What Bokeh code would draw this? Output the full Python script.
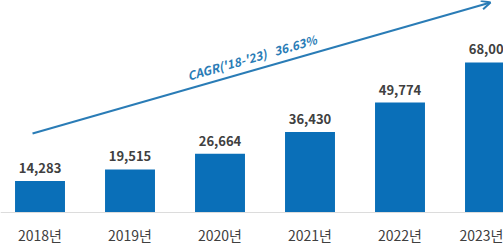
from bokeh.plotting import figure
from bokeh.models import Range1d, FixedTicker, Arrow, OpenHead, ColumnDataSource
from bokeh.embed import file_html
from bokeh.resources import INLINE
from bokeh.core.properties import value
import math

# ---- data ----
years = ["2018년", "2019년", "2020년", "2021년", "2022년", "2023년"]
values = [14283, 19515, 26664, 36430, 49774, 68000]
value_labels = ["14,283", "19,515", "26,664", "36,430", "49,774", "68,000"]
cagr_text = "CAGR('18-'23)\u00a0\u00a0\u00a036.63%"

BAR_COLOR = "#0a6fb8"
ARROW_COLOR = "#2a7cb6"
TEXT_COLOR = "#404040"
FONT = "Noto Sans CJK KR"

xs = list(range(len(years)))
src = ColumnDataSource(dict(x=xs, top=values, label=value_labels))

p = figure(width=503, height=243, output_backend="svg", toolbar_location=None,
           x_range=Range1d(-0.439, 5.15), y_range=Range1d(-14043, 96036),
           min_border=0, min_border_left=0, min_border_right=0, min_border_top=0,
           min_border_bottom=0)
p.outline_line_color = None
p.background_fill_color = "white"
p.border_fill_color = "white"
p.xgrid.visible = False
p.ygrid.visible = False
p.yaxis.visible = False

p.vbar(x="x", top="top", width=0.555, bottom=0, source=src,
       fill_color=BAR_COLOR, line_color=None)

p.text(x="x", y="top", text="label", source=src, text_align="center",
       text_baseline="bottom", y_offset=-8, text_font=value(FONT),
       text_font_size="13px", text_font_style="bold", text_color=TEXT_COLOR)

xa = p.xaxis[0]
xa.fixed_location = 0
xa.ticker = FixedTicker(ticks=xs)
xa.major_label_overrides = {i: y for i, y in enumerate(years)}
xa.axis_line_color = "#dcdcdc"
xa.axis_line_width = 1
xa.major_tick_line_color = None
xa.minor_tick_line_color = None
xa.major_tick_out = 0
xa.major_tick_in = 0
xa.major_label_standoff = 12
xa.major_label_text_font = FONT
xa.major_label_text_font_size = "14px"
xa.major_label_text_color = TEXT_COLOR

# CAGR arrow and label (annotation)
p.add_layout(Arrow(x_start=-0.083, y_start=35787, x_end=5.006, y_end=95130,
                   line_color=ARROW_COLOR, line_width=2,
                   end=OpenHead(size=9, line_color=ARROW_COLOR, line_width=2)))
p.text(x=[1.639], y=[62061], text=[cagr_text], angle=math.radians(16),
       text_align="left", text_baseline="alphabetic",
       text_font=value(FONT), text_font_size="12px", text_font_style="bold italic",
       text_color=ARROW_COLOR)

open("out.html", "w").write(file_html(p, INLINE))
